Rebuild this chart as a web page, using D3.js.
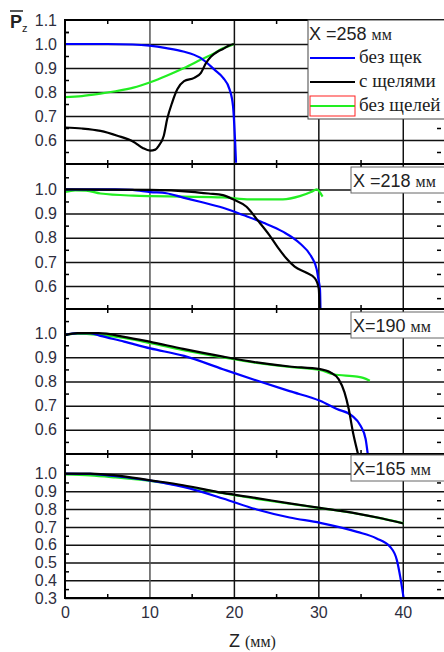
<!DOCTYPE html>
<html>
<head>
<meta charset="utf-8">
<script src="https://cdn.jsdelivr.net/npm/d3@7"></script>
<style>
  body { margin: 0; background: #fff; }
  .tick-label text { font-family: "Liberation Sans", Arial, sans-serif; font-size: 16px; fill: #2e2e3e; }
</style>
</head>
<body>
<div id="chart"></div>
<script>
// == data (Z in mm, Pz normalised) ==
var xTicks = [0, 10, 20, 30, 40];
var xMinor = [5, 15, 25, 35];
var seriesNames = ["без щек", "с щелями", "без щелей"];

// X = 258 mm
var yTicks258 = [1.1, 1.0, 0.9, 0.8, 0.7, 0.6];
var blue258 = [[0,1.0],[5,1.0],[8,0.998],[10,0.993],[12,0.983],[14,0.969],[16,0.943],[17.7,0.893],[18.7,0.86],[19.5,0.81],[19.9,0.74],[20.05,0.66],[20.15,0.59],[20.25,0.505]];
var black258 = [[0,0.652],[2,0.648],[4.2,0.638],[6.2,0.618],[8.1,0.593],[9.2,0.567],[10.1,0.556],[10.7,0.56],[11.1,0.576],[11.7,0.618],[12.1,0.687],[12.7,0.757],[13.3,0.811],[14.1,0.845],[15.3,0.859],[16.1,0.88],[16.7,0.921],[17.3,0.948],[18.1,0.969],[18.7,0.979],[19.5,0.995],[20,1.0]];
var green258 = [[0,0.779],[2,0.783],[4.2,0.793],[6,0.803],[8.1,0.818],[10.1,0.841],[12.1,0.869],[14.1,0.9],[16.1,0.935],[17.7,0.962],[18.7,0.982],[19.9,0.998],[20,1.0]];

// X = 218 mm
var yTicks218 = [1.0, 0.9, 0.8, 0.7, 0.6];
var blue218 = [[0,1.0],[6,1.0],[8,0.998],[10.1,0.989],[12,0.984],[14,0.966],[16,0.949],[18.7,0.924],[21.1,0.894],[23.5,0.862],[25.8,0.825],[27.8,0.777],[29.2,0.72],[29.8,0.67],[30.0,0.63],[30.2,0.584],[30.25,0.506]];
var black218 = [[0,1.0],[10,0.998],[15,0.99],[17,0.983],[18.7,0.976],[19.9,0.959],[21.5,0.928],[22.8,0.873],[24.2,0.811],[25.2,0.76],[26.2,0.715],[27.2,0.68],[28.6,0.655],[29.6,0.632],[30.05,0.59],[30.15,0.506]];
var green218 = [[0,0.989],[1.2,0.996],[2.5,0.995],[4.2,0.983],[8.1,0.974],[10.1,0.972],[14,0.97],[18.7,0.967],[21.9,0.959],[25.8,0.959],[27.8,0.972],[29.2,0.99],[29.8,1.0],[30.5,0.97]];

// X = 190 mm
var yTicks190 = [1.0, 0.9, 0.8, 0.7, 0.6];
var blue190 = [[0,0.992],[1.5,1.0],[3,1.0],[4.2,0.989],[7,0.965],[10.1,0.937],[14.1,0.906],[18.7,0.851],[22.7,0.804],[26.6,0.76],[30.2,0.72],[32.2,0.686],[34,0.658],[35,0.617],[35.6,0.562],[35.85,0.5]];
var black190 = [[0,0.992],[1.5,1.0],[4,1.0],[7,0.985],[10.1,0.964],[14,0.935],[18.7,0.903],[22.7,0.879],[26.6,0.862],[30.2,0.851],[31.4,0.838],[32.4,0.81],[33.1,0.755],[33.6,0.686],[34.1,0.59],[34.6,0.514],[34.7,0.5]];
var green190 = [[0,0.992],[1.5,0.998],[4,0.993],[7,0.98],[10.1,0.959],[14,0.93],[18.7,0.9],[22.7,0.877],[26.6,0.86],[30.2,0.848],[31.8,0.83],[34.6,0.82],[35.3,0.815],[36.1,0.803]];

// X = 165 mm
var yTicks165 = [1.0, 0.9, 0.8, 0.7, 0.6, 0.5, 0.4, 0.3];
var blue165 = [[0,1.0],[3,0.998],[6,0.985],[10.1,0.96],[14,0.925],[18.7,0.86],[22.7,0.798],[26.6,0.753],[30.2,0.723],[34.6,0.672],[36.9,0.635],[38.5,0.588],[39.3,0.513],[39.7,0.419],[40.1,0.3]];
var black165 = [[0,1.0],[3,1.0],[6,0.99],[10.1,0.962],[14,0.934],[18.7,0.891],[22.7,0.862],[26.6,0.832],[30.2,0.807],[34.6,0.775],[37,0.753],[40.1,0.719]];
var green165 = [[0,0.995],[3,0.99],[6,0.978],[10.1,0.958],[14,0.93],[18.7,0.889],[22.7,0.858],[26.6,0.83],[30.2,0.806],[34.6,0.774],[37,0.752],[40.1,0.72]];

var colors = { blue: "#0000ff", black: "#000000", green: "#22ee22" };

// panels: label, pixel band, value domain
var panels = [
  { label: "X =258 ", unit: "мм", top: 20,  bottom: 164, dom: [0.5, 1.1],     ticks: yTicks258, blue: blue258, black: black258, green: green258 },
  { label: "X =218 ", unit: "мм", top: 164, bottom: 309, dom: [0.505, 1.105], ticks: yTicks218, blue: blue218, black: black218, green: green218 },
  { label: "X=190 ", unit: "мм", top: 309, bottom: 454, dom: [0.5, 1.1],     ticks: yTicks190, blue: blue190, black: black190, green: green190 },
  { label: "X=165 ", unit: "мм", top: 454, bottom: 598, dom: [0.3, 1.11],    ticks: yTicks165, blue: blue165, black: black165, green: green165 }
];

var W = 444, H = 652;
var left = 65, right = 445;
var sans = "Liberation Sans, Arial, sans-serif", serif = "Liberation Serif, serif";

var svg = d3.select("#chart").append("svg")
  .attr("width", W).attr("height", H);

var x = d3.scaleLinear().domain([0, 45]).range([left, right]);

var labelText = function (sel, p, big, small) {
  sel.append("tspan").text(p.label).style("font-family", sans).style("font-size", big).attr("fill", "#222");
  sel.append("tspan").text(p.unit).style("font-family", serif).style("font-size", small).attr("fill", "#222");
};

panels.forEach(function (p, i) {
  var y = d3.scaleLinear().domain(p.dom).range([p.bottom, p.top]);
  var g = svg.append("g");

  // -- grid lines --
  var gridVals = p.ticks.filter(function (v) { return y(v) > p.top + 2; });
  g.append("g")
    .attr("transform", "translate(" + left + ",0)")
    .call(d3.axisLeft(y).tickValues(gridVals).tickSize(-(right - left)).tickFormat(""))
    .call(function (s) { s.select(".domain").remove(); })
    .selectAll("line").attr("stroke", "#111").attr("stroke-width", 1.4);

  g.append("g")
    .attr("transform", "translate(0," + p.bottom + ")")
    .call(d3.axisBottom(x).tickValues([10, 20, 30, 40]).tickSize(-(p.bottom - p.top)).tickFormat(""))
    .call(function (s) { s.select(".domain").remove(); })
    .selectAll("line").attr("stroke", function (d) { return d == 10 ? "#555" : "#111"; }).attr("stroke-width", 1.4);

  // -- minor ticks --
  var minorY = p.ticks.map(function (v) { return +(v - 0.05).toFixed(2); })
    .filter(function (v) { return v > p.dom[0] + 0.01; });
  if (i == 0) minorY.unshift(1.05);
  else minorY.unshift(+(p.ticks[0] + 0.05).toFixed(2));
  minorY = minorY.filter(function (v) { return y(v) > p.top + 3; });

  g.append("g").attr("transform", "translate(" + left + ",0)")
    .call(d3.axisLeft(y).tickValues(minorY).tickSize(-4).tickFormat(""))
    .call(function (s) { s.select(".domain").remove(); });
  g.append("g").attr("transform", "translate(" + (W - 3) + ",0)")
    .call(d3.axisRight(y).tickValues(minorY).tickSize(-4).tickFormat(""))
    .call(function (s) { s.select(".domain").remove(); });
  g.append("g").attr("transform", "translate(0," + p.bottom + ")")
    .call(d3.axisBottom(x).tickValues(xMinor).tickSize(-4).tickFormat(""))
    .call(function (s) { s.select(".domain").remove(); });
  g.append("g").attr("transform", "translate(0," + p.top + ")")
    .call(d3.axisTop(x).tickValues(xMinor).tickSize(-4).tickFormat(""))
    .call(function (s) { s.select(".domain").remove(); });
  g.selectAll(".tick line").attr("stroke-width", 1.5);

  // -- curves --
  var clipId = "clip" + i;
  svg.append("clipPath").attr("id", clipId)
    .append("rect").attr("x", left).attr("y", p.top).attr("width", right - left).attr("height", p.bottom - p.top);

  var line = d3.line()
    .x(function (d) { return x(d[0]); })
    .y(function (d) { return y(d[1]); })
    .curve(d3.curveMonotoneX);

  ["green", "blue", "black"].forEach(function (k) {
    g.append("path")
      .attr("clip-path", "url(#" + clipId + ")")
      .attr("d", line(p[k]))
      .attr("fill", "none")
      .attr("stroke", colors[k])
      .attr("stroke-width", 2.2);
  });

  // -- frame --
  g.append("rect")
    .attr("x", left).attr("y", p.top)
    .attr("width", right - left).attr("height", p.bottom - p.top)
    .attr("fill", "none").attr("stroke", "#000").attr("stroke-width", 2);

  // -- y labels --
  g.append("g").attr("class", "tick-label")
    .attr("transform", "translate(" + left + ",0)")
    .call(d3.axisLeft(y).tickValues(p.ticks).tickSize(0).tickPadding(8).tickFormat(d3.format(".1f")))
    .call(function (s) { s.select(".domain").remove(); });

  // -- panel label / legend --
  if (i == 0) {
    var lg = g.append("g");
    lg.append("rect").attr("x", 308).attr("y", p.top).attr("width", 140).attr("height", 99)
      .attr("fill", "#fff").attr("stroke", "#444").attr("stroke-width", 1);
    labelText(lg.append("text").attr("x", 309).attr("y", p.top + 20), p, "18px", "16px");

    ["blue", "black", "green"].forEach(function (k, j) {
      var cy = p.top + 38 + j * 24;
      lg.append("line").attr("x1", 310).attr("x2", 355).attr("y1", cy).attr("y2", cy)
        .attr("stroke", colors[k]).attr("stroke-width", 2.2);
      lg.append("text").attr("x", 359).attr("y", cy + 5)
        .text(seriesNames[j])
        .style("font-family", serif).style("font-size", "19px").attr("fill", "#222");
      if (k == "green") {
        lg.append("rect").attr("x", 310).attr("y", cy - 10).attr("width", 45).attr("height", 20)
          .attr("fill", "none").attr("stroke", "#ff2020").attr("stroke-width", 1);
      }
    });
  } else {
    var by = p.top + (i == 3 ? 1 : 3);
    g.append("rect").attr("x", 351).attr("y", by).attr("width", 96).attr("height", 26)
      .attr("fill", "#fff").attr("stroke", "#666").attr("stroke-width", 1);
    labelText(g.append("text").attr("x", 353).attr("y", by + 20), p, "18px", "16px");
  }

  // -- x labels on last panel --
  if (i == panels.length - 1) {
    g.append("g").attr("class", "tick-label")
      .attr("transform", "translate(0," + p.bottom + ")")
      .call(d3.axisBottom(x).tickValues(xTicks).tickSize(0).tickPadding(9))
      .call(function (s) { s.select(".domain").remove(); });
  }
});

// == axis titles ==
var yt = svg.append("text").attr("x", 10).attr("y", 28);
yt.append("tspan").text("P").style("font-family", sans)
  .style("font-size", "18px").style("font-weight", "bold").attr("fill", "#222");
yt.append("tspan").text("z").attr("dy", 4).style("font-family", sans)
  .style("font-size", "11px").attr("fill", "#222");
svg.append("line").attr("x1", 10).attr("x2", 23).attr("y1", 11).attr("y2", 11)
  .attr("stroke", "#222").attr("stroke-width", 1.5);

var xt = svg.append("text").attr("x", 229).attr("y", 647);
xt.append("tspan").text("Z ").style("font-family", sans).style("font-size", "18px").attr("fill", "#222");
xt.append("tspan").text("(мм)").style("font-family", serif).style("font-size", "16px").attr("fill", "#222");
</script>
</body>
</html>
